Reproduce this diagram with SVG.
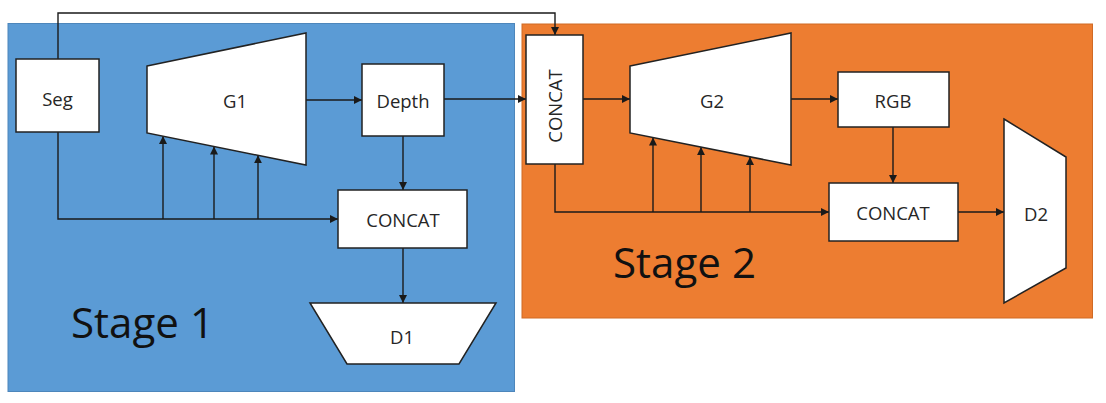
<svg xmlns="http://www.w3.org/2000/svg" width="1106" height="403" viewBox="0 0 1106 403">
<style>
.box{fill:#fff;stroke:#222;stroke-width:1.5}
.lbl{font-family:"Open Sans","Liberation Sans",sans-serif;font-size:18.5px;fill:#262626;text-anchor:middle;dominant-baseline:central}
.stage{font-family:"Open Sans","Liberation Sans",sans-serif;font-size:42px;fill:#111}
.cn{fill:none;stroke:#1a1a1a;stroke-width:1.4}
.ar{marker-end:url(#ah)}
</style>
<defs>
<marker id="ah" markerUnits="userSpaceOnUse" markerWidth="9" markerHeight="8" refX="8" refY="4" orient="auto">
<path d="M0,0 L8,4 L0,8 z" fill="#1a1a1a"/>
</marker>
</defs>
<rect id="stage1-bg" x="8" y="23.5" width="506.5" height="368" fill="#5B9BD5" stroke="#4d86bb" stroke-width="1"/>
<rect id="stage2-bg" x="522" y="24" width="570.5" height="294" fill="#ED7D31" stroke="#d06a25" stroke-width="1"/>
<text class="stage" x="71" y="338" textLength="143" lengthAdjust="spacingAndGlyphs">Stage 1</text>
<text class="stage" x="613" y="278" textLength="143" lengthAdjust="spacingAndGlyphs">Stage 2</text>
<g id="connectors">
<path class="cn ar" d="M58,59 V13 H555 V35"/>
<path class="cn ar" d="M58,132 V219 H338"/>
<path class="cn ar" d="M163,219 V136"/>
<path class="cn ar" d="M214,219 V146.5"/>
<path class="cn ar" d="M258,219 V155.3"/>
<path class="cn ar" d="M306,100 H362"/>
<path class="cn ar" d="M403,136 V190"/>
<path class="cn ar" d="M444,99 H526"/>
<path class="cn ar" d="M403,248 V303"/>
<path class="cn ar" d="M583,99 H630"/>
<path class="cn ar" d="M555,164 V212 H829"/>
<path class="cn ar" d="M653,212 V137.6"/>
<path class="cn ar" d="M701,212 V147.1"/>
<path class="cn ar" d="M750,212 V156.9"/>
<path class="cn ar" d="M791,99 H838"/>
<path class="cn ar" d="M893,127 V183"/>
<path class="cn ar" d="M958,212 H1004"/>
</g>
<g id="seg"><rect class="box" x="16" y="59" width="83" height="73"/><text class="lbl" x="57.5" y="98">Seg</text></g>
<g id="g1"><polygon class="box" points="147,66 306,33 306,165 147,133"/><text class="lbl" x="235" y="100">G1</text></g>
<g id="depth"><rect class="box" x="362" y="64" width="82" height="72"/><text class="lbl" x="403" y="100">Depth</text></g>
<g id="concat1"><rect class="box" x="338" y="190" width="129" height="58"/><text class="lbl" x="403" y="219">CONCAT</text></g>
<g id="d1"><polygon class="box" points="310,303 496,303 459,364 347,364"/><text class="lbl" x="402" y="336">D1</text></g>
<g id="concat-v"><rect class="box" x="526" y="35" width="57" height="129"/><text class="lbl" transform="translate(554,106) rotate(-90)" x="0" y="0">CONCAT</text></g>
<g id="g2"><polygon class="box" points="630,66 791,33 791,165 630,133"/><text class="lbl" x="712" y="100">G2</text></g>
<g id="rgb"><rect class="box" x="838" y="72" width="111" height="55"/><text class="lbl" x="893" y="100">RGB</text></g>
<g id="concat2"><rect class="box" x="829" y="183" width="129" height="58"/><text class="lbl" x="893" y="212">CONCAT</text></g>
<g id="d2"><polygon class="box" points="1004,119 1066,157 1066,268 1004,303"/><text class="lbl" x="1036" y="213">D2</text></g>
</svg>
